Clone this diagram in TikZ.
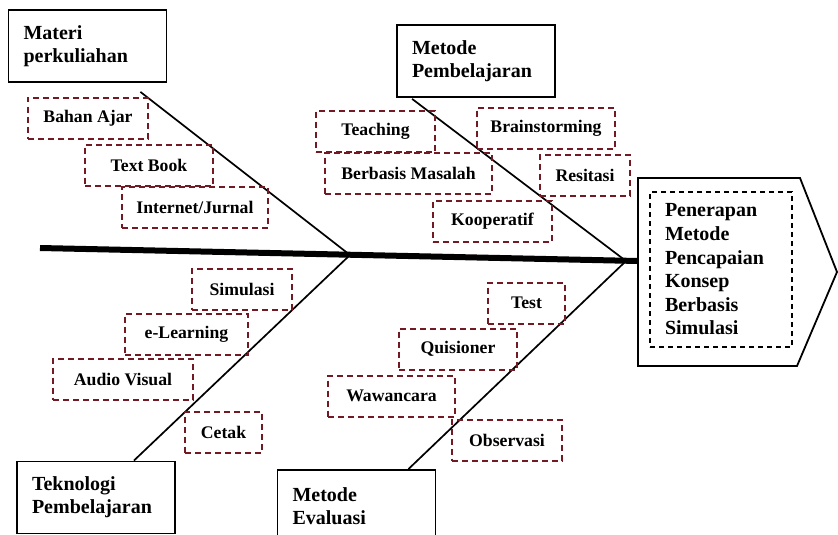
\documentclass[tikz,border=0pt]{standalone}
\usepackage{fontspec}
\setmainfont{Liberation Serif}
\definecolor{dashred}{RGB}{115,25,35}

\begin{document}
\begin{tikzpicture}[x=1pt,y=-1pt,
    causebox/.style={draw, line width=1.8pt, minimum width=158pt, minimum height=72pt,
      text width=128pt, inner xsep=15pt, align=left, font=\fontsize{20}{23}\selectfont\bfseries},
    itembox/.style={draw=dashred, line width=2pt, dash pattern=on 6pt off 4pt,
      minimum height=41pt, inner sep=0pt, font=\fontsize{17.7}{20}\selectfont\bfseries},
    bone/.style={line width=1.7pt}]
	\useasboundingbox (0,0) rectangle (838,535);
	\clip (0,0) rectangle (838,535);
	\coordinate (tail) at (40,248);
	\coordinate (head) at (638,261);
	\coordinate (j1) at (350,255);
	\coordinate (j2) at (626,261);
	\draw[line width=6pt] (tail) -- (head);
	\draw[line width=1.8pt] (638,178) -- (800,178) -- (837,272) -- (797,366) -- (638,366) -- cycle;
	\node[draw, line width=1.4pt, dash pattern=on 5pt off 4pt, minimum width=142pt, minimum height=155pt,
	  text width=112pt, inner xsep=15pt, align=left, font=\fontsize{20}{23.6}\selectfont\bfseries]
	  (effect) at (721,269.5) {Penerapan\\Metode\\Pencapaian\\Konsep\\Berbasis\\Simulasi};
	\node[causebox] (materi) at (87.5,46) {Materi\\perkuliahan};
	\node[causebox] (metode) at (476,61) {Metode\\Pembelajaran};
	\node[causebox] (teknologi) at (96,497.5) {Teknologi\\Pembelajaran};
	\node[causebox] (evaluasi) at (356.5,506) {Metode\\Evaluasi};
	\draw[bone] (materi.south east) ++(-27,9) -- (j1);
	\draw[bone] (metode.south west) ++(16,1) -- (j2);
	\draw[bone] (teknologi.north east) ++(-42,0) -- (j1);
	\draw[bone] (evaluasi.north east) ++(-28,0) -- (j2);
	\node[itembox, minimum width=120pt] (bahan) at (88,118) {Bahan Ajar};
	\node[itembox, minimum width=128pt] (textbook) at (149,165) {Text Book};
	\node[itembox, minimum width=146pt] (internet) at (195,207.5) {Internet/Jurnal};
	\node[itembox, minimum width=119pt] (teaching) at (375.5,131) {Teaching};
	\node[itembox, minimum width=138pt] (brain) at (546,128) {Brainstorming};
	\node[itembox, minimum width=167pt] (masalah) at (408.5,173) {Berbasis Masalah};
	\node[itembox, minimum width=90pt] (resitasi) at (585,175) {Resitasi};
	\node[itembox, minimum width=119pt] (kooperatif) at (492.5,221.5) {Kooperatif};
	\node[itembox, minimum width=100pt] (simulasi) at (242,289) {Simulasi};
	\node[itembox, minimum width=123pt] (elearning) at (186.5,334) {e-Learning};
	\node[itembox, minimum width=140pt] (audio) at (123,379) {Audio Visual};
	\node[itembox, minimum width=77pt] (cetak) at (223.5,432) {Cetak};
	\node[itembox, minimum width=77pt] (test) at (526.5,303) {Test};
	\node[itembox, minimum width=118pt] (quisioner) at (458,349) {Quisioner};
	\node[itembox, minimum width=127pt] (wawancara) at (391.5,396) {Wawancara};
	\node[itembox, minimum width=110pt] (observasi) at (507,440) {Observasi};
\end{tikzpicture}
\end{document}
